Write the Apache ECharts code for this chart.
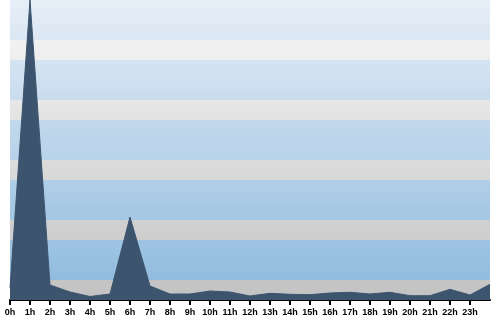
<!DOCTYPE html>
<html>
<head>
<meta charset="utf-8">
<script src="https://cdn.jsdelivr.net/npm/echarts@6/dist/echarts.min.js"></script>
<style>
html,body{margin:0;padding:0;background:#fff;}
#chart{width:500px;height:320px;}
</style>
</head>
<body>
<div id="chart"></div>
<script>
// categories (last point is the 24h end point, unlabeled)
var hours = ['0h','1h','2h','3h','4h','5h','6h','7h','8h','9h','10h','11h','12h','13h','14h','15h','16h','17h','18h','19h','20h','21h','22h','23h',''];
// series values
var traffic = [12, 300, 15, 8, 3.5, 6, 83, 14, 6, 6, 9, 8, 4, 6.7, 5.7, 5.3, 7, 7.7, 6, 7.7, 4.3, 4.3, 10.7, 5, 15.7];

var chart = echarts.init(document.getElementById('chart'), null, {renderer: 'canvas'});

function grad(top, bottom) {
  return new echarts.graphic.LinearGradient(0, 0, 0, 300, [
    {offset: 0, color: top},
    {offset: 1, color: bottom}
  ], true);
}
var gray = grad('#f9f9f9', '#c2c2c2');
var blue = grad('#e7eef7', '#8cb9dd');

chart.setOption({
  animation: false,
  grid: {left: 10, right: 10, top: 0, bottom: 20, containLabel: false},
  xAxis: {
    type: 'category',
    data: hours,
    boundaryGap: false,
    axisLine: {show: true, lineStyle: {color: '#000', width: 2}},
    axisTick: {
      show: true,
      length: 5,
      lineStyle: {color: '#000', width: 2},
      interval: function (index, value) { return value !== ''; }
    },
    axisLabel: {
      interval: 0,
      color: '#000',
      fontFamily: 'Liberation Sans, Arial, sans-serif',
      fontWeight: 'bold',
      fontSize: 9,
      margin: 8
    },
    splitLine: {show: false}
  },
  yAxis: {
    type: 'value',
    min: 0,
    max: 300,
    interval: 20,
    axisLine: {show: false},
    axisTick: {show: false},
    axisLabel: {show: false},
    splitLine: {show: false},
    splitArea: {show: true, areaStyle: {color: [gray, blue, blue]}}
  },
  series: [{
    type: 'line',
    data: traffic,
    symbol: 'none',
    smooth: false,
    lineStyle: {color: '#3c546e', width: 1},
    areaStyle: {color: '#3c546e', opacity: 1},
    itemStyle: {color: '#3c546e'}
  }]
});
</script>
</body>
</html>
